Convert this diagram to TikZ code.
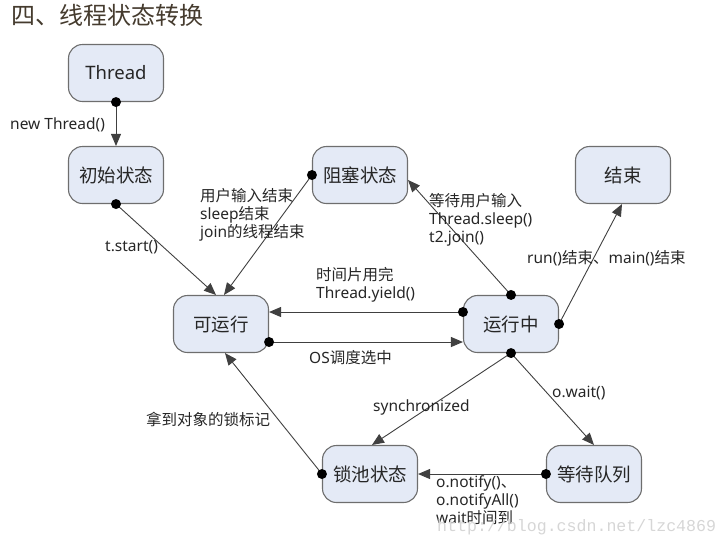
\documentclass[tikz,border=0pt]{standalone}
\usepackage{fontspec}
\setmainfont{Noto Sans}
\newfontfamily\cjk{Noto Sans CJK SC}
\newfontfamily\wmfont{Liberation Mono}
\usetikzlibrary{arrows.meta}
\definecolor{statefill}{HTML}{E4EAF6}
\definecolor{stateborder}{HTML}{6E6E6E}
\definecolor{txt}{HTML}{262626}
\definecolor{linec}{HTML}{404040}
\definecolor{titlec}{HTML}{453B2E}
\definecolor{wmc}{HTML}{D6D6D6}
\begin{document}
\begin{tikzpicture}[x=1pt,y=-1pt,
  state/.style={draw=stateborder, fill=statefill, line width=1.1pt, rounded corners=14pt,
    minimum width=95pt, minimum height=57pt, inner sep=0pt,
    font=\fontsize{18.5}{20}\selectfont, text=txt},
  conn/.style={draw=linec, line width=0.9pt, -{Triangle[length=12pt,width=10pt]}},
  lbl/.style={font=\fontsize{15.5}{18}\selectfont, text=txt, inner sep=0pt, align=left, anchor=west},
  startdot/.style={fill=black}]
\useasboundingbox (0,0) rectangle (728,547);

% title
\node[anchor=west, inner sep=0pt, text=titlec, font=\fontsize{24}{26}\selectfont\cjk] (title) at (11,15) {四、线程状态转换};

% states
\node[state] (thread) at (116,73) {Thread};
\node[state] (init) at (116,175) {\cjk 初始状态};
\node[state] (block) at (360,175) {\cjk 阻塞状态};
\node[state] (end) at (623,175) {\cjk 结束};
\node[state] (runnable) at (221,324) {\cjk 可运行};
\node[state] (running) at (511,324) {\cjk 运行中};
\node[state] (lock) at (370,474) {\cjk 锁池状态};
\node[state] (wait) at (594,474) {\cjk 等待队列};

% connectors
\draw[conn] (thread.south) -- (init.north);
\draw[conn] (init.south) -- ([xshift=-5pt]runnable.north);
\draw[conn] (block.west) -- ([xshift=3pt]runnable.north);
\draw[conn] (running.north) -- ([yshift=-5pt]block.east);
\draw[conn] (running.east) -- ([xshift=-1pt]end.south);
\draw[conn] ([yshift=12pt]running.west) -- ([yshift=12pt]runnable.east);
\draw[conn] ([yshift=-18pt]runnable.east) -- ([yshift=-18pt]running.west);
\draw[conn] (running.south) -- ([xshift=2pt]lock.north);
\draw[conn] (running.south) -- (wait.north);
\draw[conn] (wait.west) -- (lock.east);
\draw[conn] (lock.west) -- ([xshift=4pt]runnable.south);

% start dots
\fill[startdot] (thread.south) circle (5pt);
\fill[startdot] (init.south) circle (5pt);
\fill[startdot] (block.west) circle (5pt);
\fill[startdot] (running.north) circle (5pt);
\fill[startdot] (running.east) circle (5pt);
\fill[startdot] ([yshift=12pt]running.west) circle (5pt);
\fill[startdot] ([yshift=-18pt]runnable.east) circle (5pt);
\fill[startdot] (running.south) circle (5pt);
\fill[startdot] (wait.west) circle (5pt);
\fill[startdot] (lock.west) circle (5pt);

% labels
\node[lbl] (l1) at (10,125) {new Thread()};
\node[lbl] (l2) at (105,247) {t.start()};
\node[lbl] (l3) at (200,215) {{\cjk 用户输入结束}\\sleep{\cjk 结束}\\join{\cjk 的线程结束}};
\node[lbl] (l4) at (429,220) {{\cjk 等待用户输入}\\Thread.sleep()\\t2.join()};
\node[lbl] (l5) at (527,258) {run(){\cjk 结束、}main(){\cjk 结束}};
\node[lbl] (l6) at (316,285) {{\cjk 时间片用完}\\Thread.yield()};
\node[lbl] (l7) at (309,358) {OS{\cjk 调度选中}};
\node[lbl] (l8) at (373,407) {synchronized};
\node[lbl] (l9) at (552,393) {o.wait()};
\node[lbl] (l10) at (436,500) {o.notify(){\cjk 、}\\o.notifyAll()\\wait{\cjk 时间到}};
\node[lbl] (l11) at (146,419) {\cjk 拿到对象的锁标记};

% watermark
\node[anchor=west, inner sep=0pt, text=wmc, font=\fontsize{16.6}{18}\selectfont\wmfont] (wm) at (437,527) {http://blog.csdn.net/lzc4869};
\end{tikzpicture}
\end{document}
